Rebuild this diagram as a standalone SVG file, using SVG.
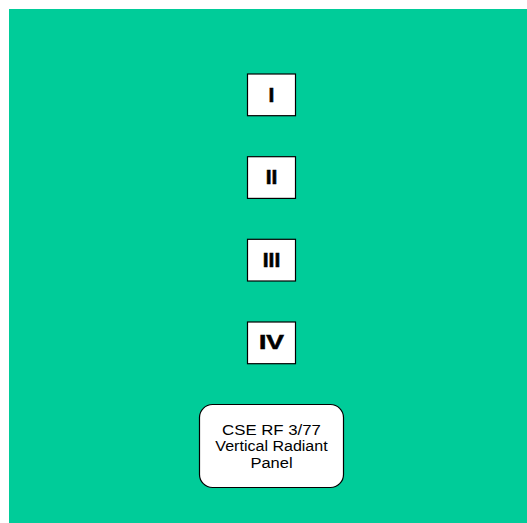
<svg xmlns="http://www.w3.org/2000/svg" width="527" height="523" viewBox="0 0 527 523">
<style>
.box{fill:#fff;stroke:#000;stroke-width:1.2}
.num{font-family:"Liberation Sans",Arial,sans-serif;font-weight:bold;font-size:21px;text-anchor:middle;fill:#000;stroke:#000;stroke-width:0.6}
.lbl{font-family:"Liberation Sans",Arial,sans-serif;font-size:15px;text-anchor:middle;fill:#000}
</style>
<rect x="0" y="0" width="527" height="523" fill="#fff"/>
<rect x="9" y="9" width="518" height="514" fill="#00CC99"/>
<g id="connectors"/>
<g id="node-I">
<rect class="box" x="247.5" y="74" width="48" height="41.7"/>
<text class="num" x="271.5" y="101.5">I</text>
</g>
<g id="node-II">
<rect class="box" x="247.5" y="156.7" width="48" height="41.7"/>
<text class="num" x="271.5" y="184.2">II</text>
</g>
<g id="node-III">
<rect class="box" x="247.5" y="239.3" width="48" height="41.7"/>
<text class="num" x="271.5" y="266.8">III</text>
</g>
<g id="node-IV">
<rect class="box" x="247.5" y="322" width="48" height="41.7"/>
<text class="num" x="271.5" y="349.3" textLength="25" lengthAdjust="spacingAndGlyphs">IV</text>
</g>
<g id="node-panel">
<rect class="box" x="199.5" y="404.5" width="144" height="83" rx="13" ry="13"/>
<text class="lbl" transform="translate(271.5,434.5) scale(1.12,1)">CSE RF 3/77</text>
<text class="lbl" transform="translate(271.5,451) scale(1.07,1)">Vertical Radiant</text>
<text class="lbl" transform="translate(271.5,467.5) scale(1.1,1)">Panel</text>
</g>
</svg>
